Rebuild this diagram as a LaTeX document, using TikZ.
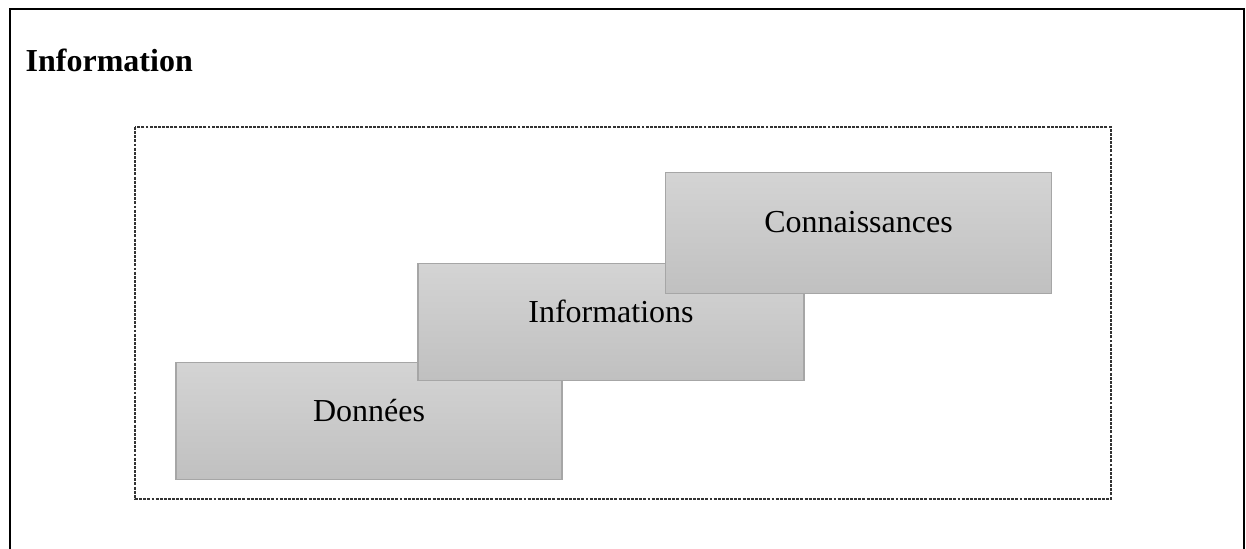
\documentclass[tikz,border=0pt]{standalone}
\usepackage{fontspec}
\setmainfont{Liberation Serif}
\usepackage{tikz}
\definecolor{boxtop}{RGB}{212,212,212}
\definecolor{boxbot}{RGB}{192,192,192}
\definecolor{boxline}{RGB}{166,166,166}

\begin{document}
\begin{tikzpicture}[x=0.75pt,y=-0.75pt]
\tikzstyle{stepbox}=[
  rectangle,
  draw=boxline,
  line width=0.9pt,
  top color=boxtop,
  bottom color=boxbot,
  minimum width=289.5pt,
  minimum height=88pt,
  text height=9pt,
  text depth=9pt,
  font=\fontsize{24}{28}\selectfont ]
\useasboundingbox (0,0) rectangle (1246,549);
% frame, open at the bottom
\coordinate (fbl) at (10,560);
\coordinate (ftl) at (10,9);
\coordinate (ftr) at (1244,9);
\coordinate (fbr) at (1244,560);
\draw[line width=1.6pt] (fbl) -- (ftl) -- (ftr) -- (fbr);
\node[anchor=base west,font=\fontsize{24}{28}\selectfont\bfseries] (title) at (21,72) {Information};
% dashed area
\coordinate (dtl) at (135,127);
\coordinate (dbr) at (1111,499);
\draw[black!80,line width=0.8pt,dash pattern=on 2.2pt off 0.9pt] (dtl) rectangle (dbr);
% steps
\node[stepbox] (donnees) at (369,421) {Données};
\node[stepbox] (infos) at (611,322) {Informations};
\node[stepbox,minimum height=91pt] (connais) at (858.5,233) {Connaissances};
\end{tikzpicture}
\end{document}
